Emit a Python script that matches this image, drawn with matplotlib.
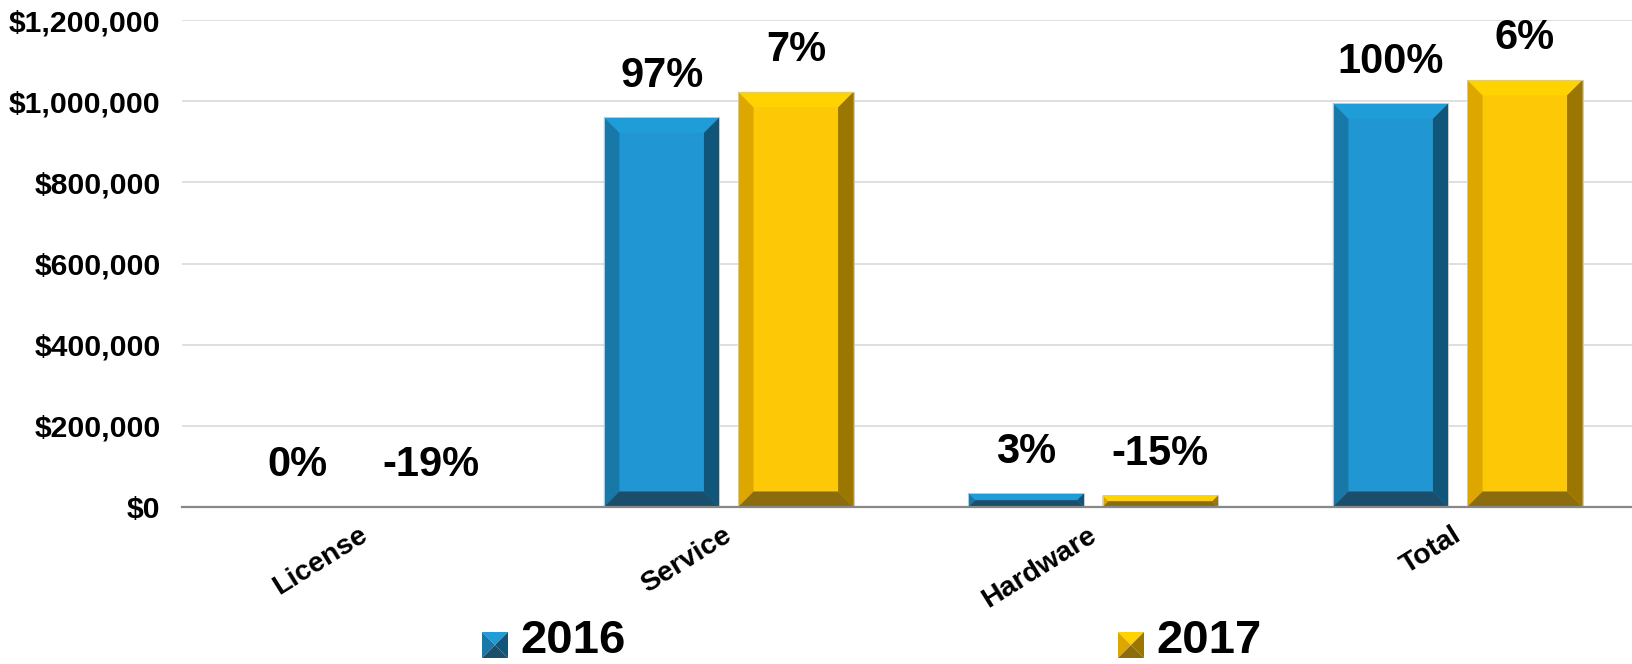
import matplotlib
matplotlib.use("Agg")
import matplotlib.pyplot as plt
import matplotlib.ticker as mticker
from matplotlib.patches import Polygon
from matplotlib.transforms import IdentityTransform, ScaledTranslation

categories = ["License", "Service", "Hardware", "Total"]
years = ["2016", "2017"]
revenue_2016 = [1000, 960000, 33500, 994500]
revenue_2017 = [810, 1023000, 28500, 1052310]

# face, top, left, right, bottom bevel shades
SHADES = {
    "2016": ["#2096d2", "#1e9dd9", "#1878a8", "#10557a", "#1a4e6c"],
    "2017": ["#fdc906", "#ffd300", "#dda700", "#9b7600", "#8c6c0c"],
}
LABEL_FONT = "Liberation Sans"
BEVEL_PX = 15.5

fig = plt.figure(figsize=(16.33, 6.64), dpi=100)
ax = fig.add_axes([182 / 1633, 157 / 664, 1 - 182 / 1633, 487 / 664])
ax.set_xlim(-0.5, -0.5 + (1633 - 182) / 364.5)
ax.set_ylim(0, 1200000)

total_2016 = revenue_2016[-1]
labels_2016 = [f"{v / total_2016:.0%}" for v in revenue_2016]
labels_2017 = [f"{b / a - 1:.0%}" for a, b in zip(revenue_2016, revenue_2017)]

width = 0.317
offset = 0.184
xs = range(len(categories))


def bevel(rect, shades):
    """Overlay an Excel-style bevel on one bar patch."""
    x, y = rect.get_x(), rect.get_y()
    w, h = rect.get_width(), rect.get_height()
    (px0, py0) = ax.transData.transform((x, y))
    (px1, py1) = ax.transData.transform((x + w, y + h))
    b = min(BEVEL_PX, (px1 - px0) / 2, (py1 - py0) / 2)
    inv = ax.transData.inverted()
    corners = {
        "top": [(px0, py1), (px1, py1), (px1 - b, py1 - b), (px0 + b, py1 - b)],
        "left": [(px0, py0), (px0 + b, py0 + b), (px0 + b, py1 - b), (px0, py1)],
        "right": [(px1, py0), (px1, py1), (px1 - b, py1 - b), (px1 - b, py0 + b)],
        "bottom": [(px0, py0), (px1, py0), (px1 - b, py0 + b), (px0 + b, py0 + b)],
    }
    for side, col in zip(["top", "left", "right", "bottom"], shades[1:]):
        ax.add_patch(Polygon(inv.transform(corners[side]), closed=True,
                             facecolor=col, edgecolor="none", zorder=3))
    ax.add_patch(plt.Rectangle((x, y), w, h, facecolor="none",
                               edgecolor="#c9c9c9", lw=0.7, zorder=4))


for year, vals, labels, sign in [("2016", revenue_2016, labels_2016, -1),
                                 ("2017", revenue_2017, labels_2017, 1)]:
    bars = ax.bar([i + sign * offset for i in xs], vals, width=width,
                  color=SHADES[year][0], zorder=2)
    for rect, lab in zip(bars, labels):
        bevel(rect, SHADES[year])
        ax.annotate(lab, (rect.get_x() + rect.get_width() / 2, rect.get_height()),
                    xytext=(0, 22), textcoords="offset points", ha="center",
                    va="baseline", fontsize=30, fontweight="bold",
                    family=LABEL_FONT, zorder=5)

ax.yaxis.set_major_locator(mticker.MultipleLocator(200000))
ax.yaxis.set_major_formatter(mticker.FuncFormatter(lambda v, _: f"${v:,.0f}"))
ax.grid(axis="y", color="#d9d9d9", lw=1.2)
ax.set_axisbelow(True)
for side in ["top", "right", "left"]:
    ax.spines[side].set_visible(False)
ax.spines["bottom"].set_color("#888888")
ax.spines["bottom"].set_linewidth(1.6)
ax.spines["bottom"].set_zorder(6)
ax.tick_params(axis="y", length=0, pad=15.5)
ax.tick_params(axis="x", length=0, pad=11)
for t in ax.get_yticklabels():
    t.set_fontsize(21.7)
    t.set_fontweight("bold")
    t.set_family(LABEL_FONT)

ax.set_xticks(list(xs))
ax.set_xticklabels(categories, rotation=32, ha="right", va="top",
                   rotation_mode="anchor", fontsize=20.5, fontweight="bold",
                   family=LABEL_FONT)
nudge = ScaledTranslation(-6 / 100, 0, fig.dpi_scale_trans)
for t in ax.get_xticklabels():
    t.set_transform(t.get_transform() + nudge)

# legend along the bottom edge, drawn in pixel space
for (x0, year) in [(482, "2016"), (1118, "2017")]:
    s = 26
    y0 = 6
    c = SHADES[year]
    cx, cy = x0 + s / 2, y0 + s / 2
    tris = [
        ([(x0, y0 + s), (x0 + s, y0 + s), (cx, cy)], c[1]),
        ([(x0, y0), (x0, y0 + s), (cx, cy)], c[2]),
        ([(x0 + s, y0), (x0 + s, y0 + s), (cx, cy)], c[3]),
        ([(x0, y0), (x0 + s, y0), (cx, cy)], c[4]),
    ]
    for pts, col in tris:
        fig.patches.append(Polygon(pts, closed=True, facecolor=col,
                                   edgecolor="none", transform=IdentityTransform(),
                                   figure=fig))
    fig.text(x0 + 38, 1, year, transform=IdentityTransform(), ha="left",
             va="bottom", fontsize=34, fontweight="bold", family=LABEL_FONT)

fig.savefig("out.png", dpi=100, facecolor="white")
